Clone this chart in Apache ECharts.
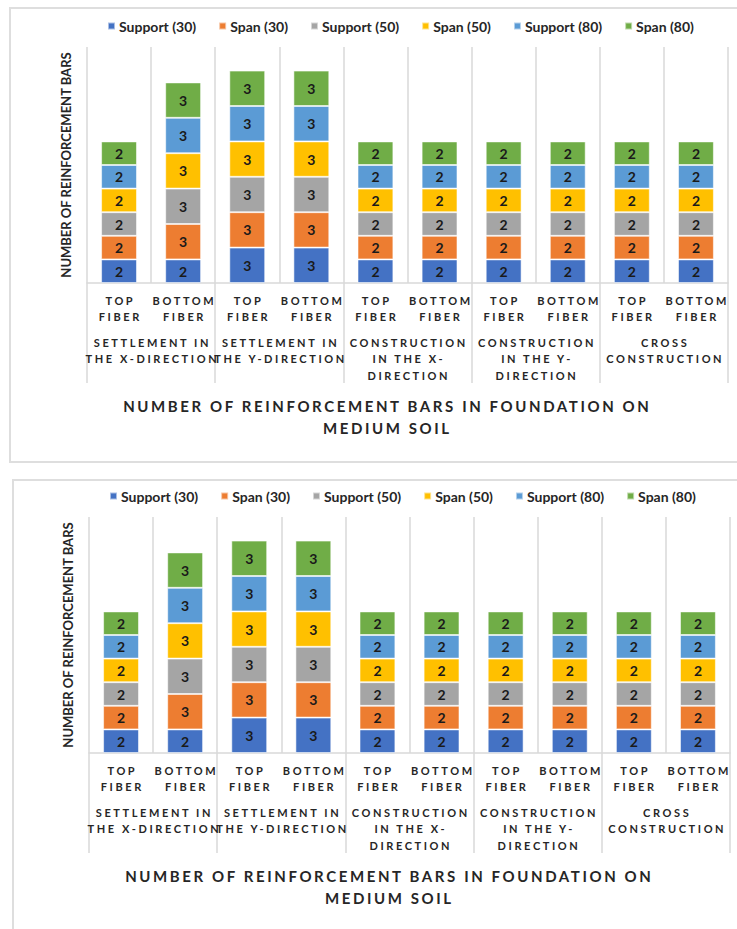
<!DOCTYPE html>
<html>
<head>
<meta charset="utf-8">
<script src="https://cdn.jsdelivr.net/npm/echarts@6/dist/echarts.min.js"></script>
<style>
  html, body { margin: 0; padding: 0; background: #fff; width: 737px; height: 929px; overflow: hidden; position: relative; }
  .frame { position: absolute; border: 2px solid #dedede; box-sizing: border-box; }
  .chart { position: absolute; left: 0; width: 737px; }
</style>
</head>
<body>
<div class="frame" style="left:9px;top:7px;width:760px;height:456px"></div>
<div class="frame" style="left:12px;top:479px;width:760px;height:480px"></div>
<div id="chartTop" class="chart" style="top:0;height:470px"></div>
<div id="chartBottom" class="chart" style="top:470px;height:459px"></div>
<script>
// Fiber positions (inner axis level) and load cases (outer axis level)
const fibers = ['TOP\nFIBER', 'BOTTOM\nFIBER', 'TOP\nFIBER', 'BOTTOM\nFIBER', 'TOP\nFIBER',
                'BOTTOM\nFIBER', 'TOP\nFIBER', 'BOTTOM\nFIBER', 'TOP\nFIBER', 'BOTTOM\nFIBER'];
const loadCases = ['SETTLEMENT IN\nTHE X-DIRECTION', 'SETTLEMENT IN\nTHE Y-DIRECTION',
                   'CONSTRUCTION\nIN THE X-\nDIRECTION', 'CONSTRUCTION\nIN THE Y-\nDIRECTION',
                   'CROSS\nCONSTRUCTION'];

// Number of bars per strip (thickness in cm)
const seriesNames = ['Support (30)', 'Span (30)', 'Support (50)', 'Span (50)', 'Support (80)', 'Span (80)'];
const support30 = [2, 2, 3, 3, 2, 2, 2, 2, 2, 2];
const span30    = [2, 3, 3, 3, 2, 2, 2, 2, 2, 2];
const support50 = [2, 3, 3, 3, 2, 2, 2, 2, 2, 2];
const span50    = [2, 3, 3, 3, 2, 2, 2, 2, 2, 2];
const support80 = [2, 3, 3, 3, 2, 2, 2, 2, 2, 2];
const span80    = [2, 3, 3, 3, 2, 2, 2, 2, 2, 2];
const seriesValues = [support30, span30, support50, span50, support80, span80];
const palette = ['#4472C4', '#ED7D31', '#A5A5A5', '#FFC000', '#5B9BD5', '#70AD47'];

const chartTitle = 'NUMBER OF REINFORCEMENT BARS IN FOUNDATION ON\nMEDIUM SOIL';
const yAxisTitle = 'NUMBER OF REINFORCEMENT BARS';

const FONT = 'Lato';
const TEXT = '#262626';
const LINE = '#d9d9d9';

function buildOption(dx) {
  return {
    animation: false,
    textStyle: { fontFamily: FONT },
    title: {
      text: chartTitle,
      left: 386 + dx,
      top: 395,
      textAlign: 'center',
      padding: 0,
      textStyle: { fontFamily: FONT, fontSize: 15, fontWeight: 'bold', color: TEXT, lineHeight: 22 }
    },
    legend: {
      data: seriesNames,
      left: 107 + dx,
      top: 19,
      padding: 0,
      icon: 'rect',
      itemWidth: 7,
      itemHeight: 7,
      itemGap: 22,
      textStyle: { fontFamily: FONT, fontSize: 14, fontWeight: 'bold', color: TEXT, padding: [0, 0, 0, -1] }
    },
    grid: { left: 87 + dx, top: 47, width: 641, height: 236, containLabel: false },
    xAxis: [
      {
        type: 'category',
        data: fibers,
        position: 'bottom',
        axisLine: { show: true, lineStyle: { color: LINE, width: 1.5 } },
        axisTick: { show: false },
        splitLine: { show: true, lineStyle: { color: LINE, width: 1.5 } },
        axisLabel: {
          interval: 0, margin: 9, fontFamily: FONT, fontSize: 11, fontWeight: 'bold',
          color: TEXT, lineHeight: 16
        }
      },
      {
        type: 'category',
        data: loadCases,
        position: 'bottom',
        axisLine: { show: false },
        axisTick: { show: true, length: 100, lineStyle: { color: LINE, width: 1.5 } },
        splitLine: { show: false },
        axisLabel: {
          interval: 0, margin: 51, fontFamily: FONT, fontSize: 11, fontWeight: 'bold',
          color: TEXT, lineHeight: 16.5
        }
      }
    ],
    yAxis: {
      type: 'value',
      min: 0,
      max: 20,
      axisLabel: { show: false },
      axisLine: { show: false },
      axisTick: { show: false },
      splitLine: { show: false },
      name: yAxisTitle,
      nameLocation: 'middle',
      nameRotate: 90,
      nameGap: 15,
      nameTextStyle: { fontFamily: FONT, fontSize: 13, fontWeight: 'bold', color: TEXT }
    },
    series: seriesNames.map((name, i) => ({
      name: name,
      type: 'bar',
      stack: 'bars',
      xAxisIndex: 0,
      barWidth: '56%',
      data: seriesValues[i],
      itemStyle: { color: palette[i], borderColor: 'rgba(255,255,255,0.55)', borderWidth: 1 },
      label: {
        show: true, position: 'inside', fontFamily: FONT, fontSize: 14,
        fontWeight: 'bold', color: '#1a1a1a'
      }
    }))
  };
}

// Tracked spacing for axis category labels and the chart title
const spacedAxis = new Set();
fibers.concat(loadCases).forEach(s => s.split('\n').forEach(l => spacedAxis.add(l)));
const spacedTitle = new Set(chartTitle.split('\n'));

function applySpacing(chart) {
  const svg = chart.getDom().querySelector('svg');
  if (!svg) return;
  svg.querySelectorAll('text').forEach(t => {
    const s = t.textContent;
    let sp = 0;
    if (spacedAxis.has(s)) sp = 2.6;
    else if (spacedTitle.has(s)) sp = 2.6;
    if (sp) {
      t.setAttribute('letter-spacing', sp);
      t.setAttribute('dx', sp / 2);
    }
  });
}

function draw(id, dx) {
  const chart = echarts.init(document.getElementById(id), null, { renderer: 'svg' });
  chart.setOption(buildOption(dx));
  applySpacing(chart);
  chart.on('finished', () => applySpacing(chart));
  return chart;
}

draw('chartTop', 0);
draw('chartBottom', 2);
</script>
</body>
</html>
